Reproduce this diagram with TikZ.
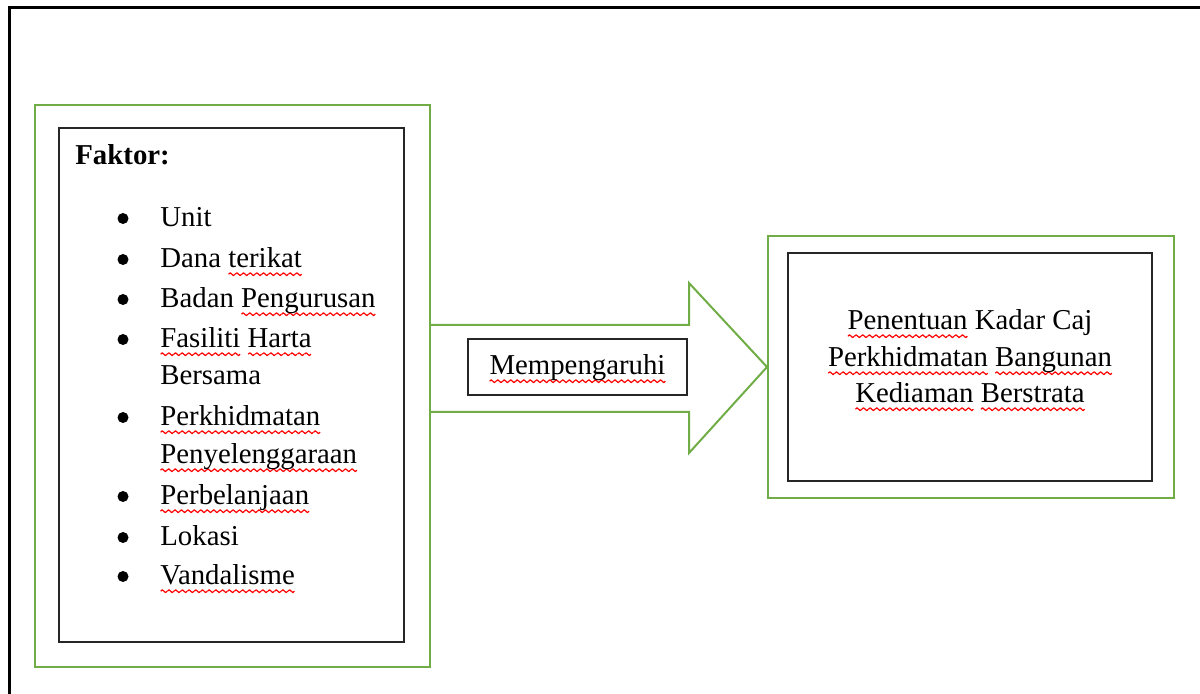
\documentclass[tikz,border=0pt]{standalone}
\usepackage{fontspec}
\setmainfont{Liberation Serif}
\definecolor{grn}{HTML}{70AD47}
\newsavebox\wavebox
\newsavebox\sqword
\newcommand\sq[1]{\sbox\sqword{#1}\rlap{\raisebox{-3.8pt}{\hbox to \wd\sqword{\xleaders\copy\wavebox\hfill}}}\usebox\sqword}
\begin{document}
\sbox\wavebox{\pgfpicture
  \pgfsetlinewidth{0.6pt}%
  \pgfsetstrokecolor{red}%
  \pgfsetroundjoin
  \pgfpathmoveto{\pgfpoint{0pt}{0.7pt}}%
  \pgfpathlineto{\pgfpoint{0.8pt}{1.4pt}}%
  \pgfpathlineto{\pgfpoint{2.4pt}{0pt}}%
  \pgfpathlineto{\pgfpoint{3.2pt}{0.7pt}}%
  \pgfusepath{stroke}%
  \pgfresetboundingbox
  \pgfpathrectangle{\pgfpointorigin}{\pgfpoint{3.2pt}{1.4pt}}%
  \pgfusepath{use as bounding box}%
\endpgfpicture}%
\begin{tikzpicture}[x=0.5pt,y=-0.5pt,
  gbox/.style={draw=grn, line width=1pt, rectangle, inner sep=0pt},
  bbox/.style={draw=black!85, line width=1pt, rectangle, inner sep=0pt},
  txt/.style={inner sep=0pt, font=\fontsize{14.4}{18}\selectfont},
  item/.style={txt, anchor=base west},
  bul/.style={circle, fill=black, inner sep=0pt, minimum size=5.5pt}]
\useasboundingbox (0,0) rectangle (1200,694);
\draw[line width=1.5pt] (9,694) -- (9,8) -- (1200,8);

% boxes
\node[gbox, minimum width=197.5pt, minimum height=281pt] (lg) at (232.5,386) {};
\node[bbox, minimum width=172.5pt, minimum height=257pt] (lb) at (231.5,385) {};
\node[gbox, minimum width=203pt, minimum height=131pt] (rg) at (971,367) {};
\node[bbox, minimum width=182pt, minimum height=114pt] (rb) at (970,367) {};

% block arrow
\coordinate (hu) at (689,325);
\coordinate (ht) at (689,283);
\coordinate (hb) at (689,453);
\coordinate (hl) at (689,412);
\draw[grn, line width=1pt, line join=miter]
  ([yshift=30.5pt]lg.east) -- (hu) -- (ht) -- (rg.west) -- (hb) -- (hl) -- ([yshift=-13pt]lg.east);

\node[bbox, txt, fill=white, minimum width=109.5pt, minimum height=28pt] (mp) at (577.5,367) {};
\node[txt, anchor=base] (mpt) at (577.5,375) {\sq{Mempengaruhi}};

% left list
\node[item] (fk) at (75,165) {\textbf{Faktor:}};
\node[item] (i1) at (160,227) {Unit};
\node[item] (i2) at (160,268) {Dana \sq{terikat}};
\node[item] (i3) at (160,308) {Badan \sq{Pengurusan}};
\node[item] (i4) at (160,348) {\sq{Fasiliti} \sq{Harta}};
\node[item] (i4b) at (160,385) {Bersama};
\node[item] (i5) at (160,426) {\sq{Perkhidmatan}};
\node[item] (i5b) at (160,464) {\sq{Penyelenggaraan}};
\node[item] (i6) at (160,505) {\sq{Perbelanjaan}};
\node[item] (i7) at (160,546) {Lokasi};
\node[item] (i8) at (160,585) {\sq{Vandalisme}};

\node[bul] (b1) at (123,218.5) {};
\node[bul] (b2) at (123,259.5) {};
\node[bul] (b3) at (123,299.5) {};
\node[bul] (b4) at (123,339.5) {};
\node[bul] (b5) at (123,417.5) {};
\node[bul] (b6) at (123,496.5) {};
\node[bul] (b7) at (123,537.5) {};
\node[bul] (b8) at (123,576.5) {};

% right text
\node[txt, anchor=base] (r1) at (970,330) {\sq{Penentuan} Kadar Caj};
\node[txt, anchor=base] (r2) at (970,367) {\sq{Perkhidmatan} \sq{Bangunan}};
\node[txt, anchor=base] (r3) at (970,403) {\sq{Kediaman} \sq{Berstrata}};
\end{tikzpicture}
\end{document}
